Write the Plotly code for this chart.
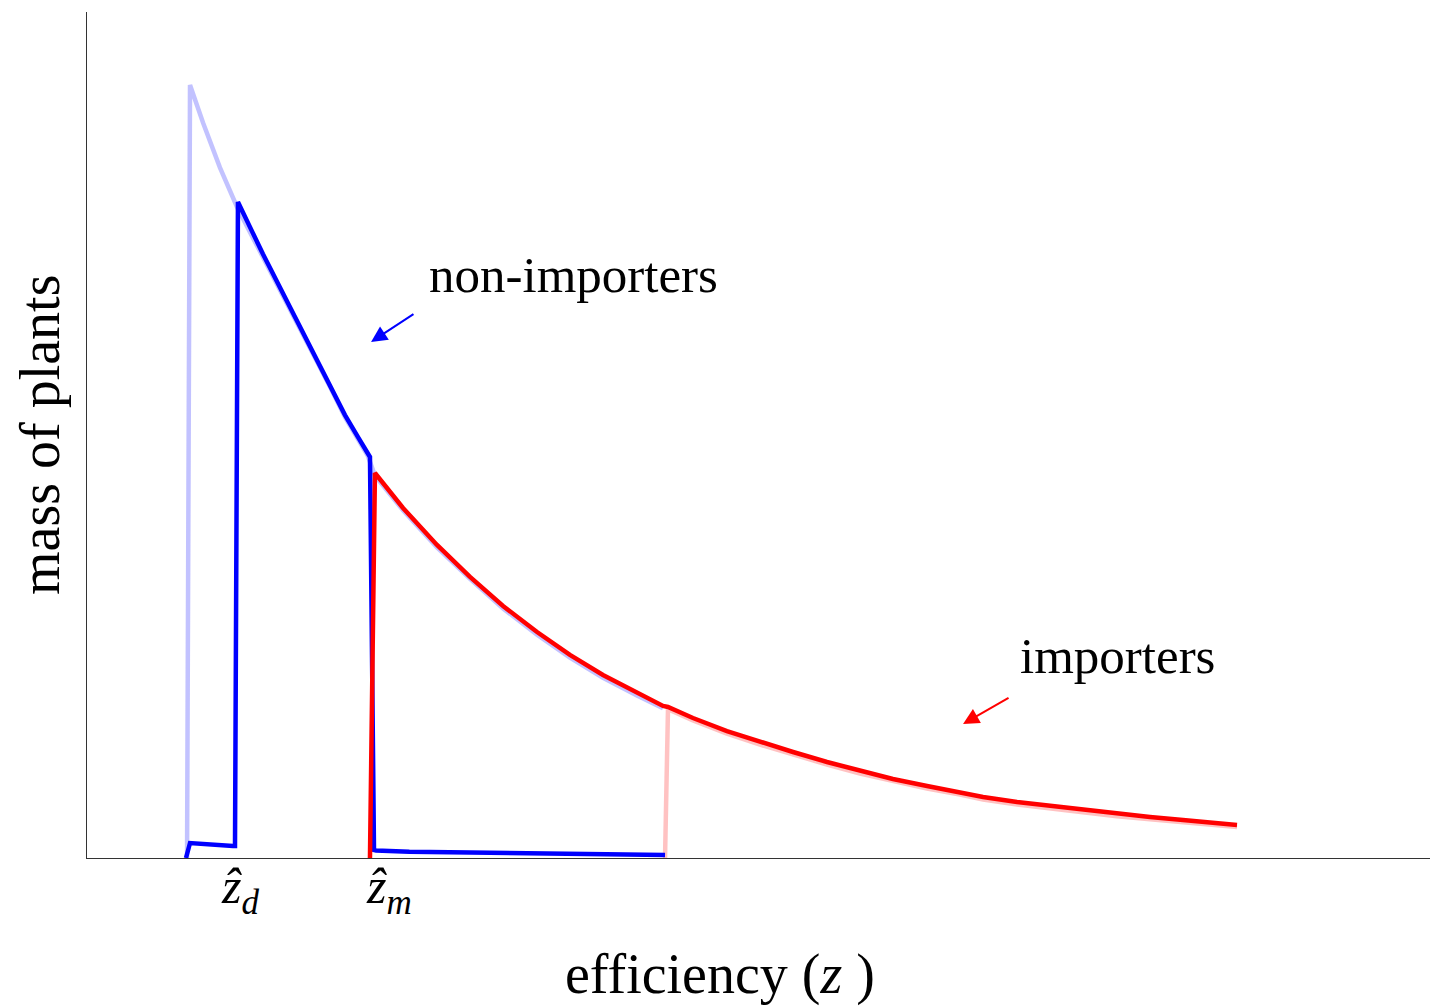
import plotly.graph_objects as go

# Efficiency z (horizontal) and mass of plants (vertical), both in arbitrary units 0-100.

# Overall density before the cutoffs (faint), first part
base_z = [7.45, 7.67, 8.64, 9.90, 11.17, 13.10, 15.64, 18.09, 19.21, 20.18, 20.92, 21.44,
          23.53, 26.06, 28.52, 30.98, 33.51, 35.96, 38.42, 40.95, 42.89]
base_m = [0.0, 91.37, 86.90, 81.60, 76.95, 71.10, 63.30, 55.70, 52.10, 49.60, 47.50, 45.20,
          41.10, 36.70, 33.00, 29.50, 26.40, 23.70, 21.30, 19.20, 17.70]

# Faint importer density beyond the upper cutoff
late_z = [43.04, 43.26, 45.12, 47.65, 50.11, 52.57, 55.10, 57.56, 60.01, 62.55, 65.00,
          66.72, 69.25, 71.71, 74.16, 76.69, 79.15, 81.61, 85.63]
late_m = [0.0, 17.60, 16.25, 14.70, 13.40, 12.20, 11.05, 9.98, 9.05, 8.20, 7.50,
          6.92, 6.33, 5.86, 5.38, 4.92, 4.57, 4.22, 3.65]

# Non-importers
non_z = [7.37, 7.67, 10.87, 11.02, 11.24, 13.10, 15.64, 18.09, 19.21, 20.18, 20.92, 21.07,
         21.37, 21.52, 24.0, 30.0, 36.0, 43.04]
non_m = [0.0, 1.77, 1.42, 1.42, 77.54, 71.39, 63.48, 55.79, 52.35, 49.75, 47.87, 47.40,
         0.95, 0.90, 0.75, 0.60, 0.45, 0.35]

# Importers
imp_z = [21.07, 21.44, 23.53, 26.06, 28.52, 30.98, 33.51, 35.96, 38.42, 40.95, 42.89,
         43.26, 45.12, 47.65, 50.11, 52.57, 55.10, 57.56, 60.01, 62.55, 65.00,
         66.72, 69.25, 71.71, 74.16, 76.69, 79.15, 81.61, 85.63]
imp_m = [0.0, 45.51, 41.37, 37.00, 33.22, 29.79, 26.71, 24.00, 21.63, 19.50, 17.97,
         17.85, 16.55, 15.01, 13.71, 12.53, 11.35, 10.28, 9.34, 8.51, 7.80,
         7.21, 6.62, 6.15, 5.67, 5.20, 4.85, 4.49, 3.90]

# Cutoff label positions
cutoff_z = [10.95, 21.75]
cutoff_labels = ["<i>ẑ</i><sub><i>d</i></sub>", "<i>ẑ</i><sub><i>m</i></sub>"]

serif = "Liberation Serif"

fig = go.Figure()
fig.add_trace(go.Scatter(x=base_z, y=base_m, mode="lines",
                         line=dict(color="rgba(120,120,255,0.45)", width=4.5)))
fig.add_trace(go.Scatter(x=late_z, y=late_m, mode="lines",
                         line=dict(color="rgba(255,120,120,0.45)", width=4.5)))
fig.add_trace(go.Scatter(x=non_z, y=non_m, mode="lines",
                         line=dict(color="#0000ff", width=4.5)))
fig.add_trace(go.Scatter(x=imp_z, y=imp_m, mode="lines",
                         line=dict(color="#ff0000", width=4.5)))

annotations = []
for zc, lab in zip(cutoff_z, cutoff_labels):
    annotations.append(dict(x=zc, y=0, xref="x", yref="y", text=lab, showarrow=False,
                            xanchor="left", yanchor="top", xshift=-15, yshift=2,
                            font=dict(family=serif, size=50, color="black")))

annotations += [
    dict(x=21.15, y=61.0, ax=24.42, ay=64.4, xref="x", yref="y", axref="x", ayref="y",
         text="", showarrow=True, arrowhead=2, arrowsize=1.6, arrowwidth=2,
         arrowcolor="#0000ff"),
    dict(x=65.23, y=15.84, ax=68.73, ay=19.03, xref="x", yref="y", axref="x", ayref="y",
         text="", showarrow=True, arrowhead=2, arrowsize=1.6, arrowwidth=2,
         arrowcolor="#ff0000"),
    dict(x=25.3, y=68.9, xref="x", yref="y", text="non-importers", showarrow=False,
         xanchor="left", yanchor="middle",
         font=dict(family=serif, size=51, color="black")),
    dict(x=69.3, y=23.9, xref="x", yref="y", text="importers", showarrow=False,
         xanchor="left", yanchor="middle",
         font=dict(family=serif, size=51, color="black")),
    dict(x=0.471, y=-0.138, xref="paper", yref="paper", text="efficiency (<i>z</i> )",
         showarrow=False, xanchor="center", yanchor="middle",
         font=dict(family=serif, size=56, color="black")),
    dict(x=-0.035, y=0.5, xref="paper", yref="paper", text="mass of plants",
         showarrow=False, textangle=-90, xanchor="center", yanchor="middle",
         font=dict(family=serif, size=56, color="black")),
]

fig.update_layout(
    width=1430, height=1007,
    margin=dict(l=87, r=0, t=12, b=149),
    plot_bgcolor="white", paper_bgcolor="white",
    showlegend=False,
    annotations=annotations,
    xaxis=dict(range=[0, 100], showgrid=False, zeroline=False, showticklabels=False,
               ticks="", showline=True, linecolor="#333333", linewidth=1.2),
    yaxis=dict(range=[0, 100], showgrid=False, zeroline=False, showticklabels=False,
               ticks="", showline=True, linecolor="#333333", linewidth=1.2),
)

fig.write_html("out.html")
